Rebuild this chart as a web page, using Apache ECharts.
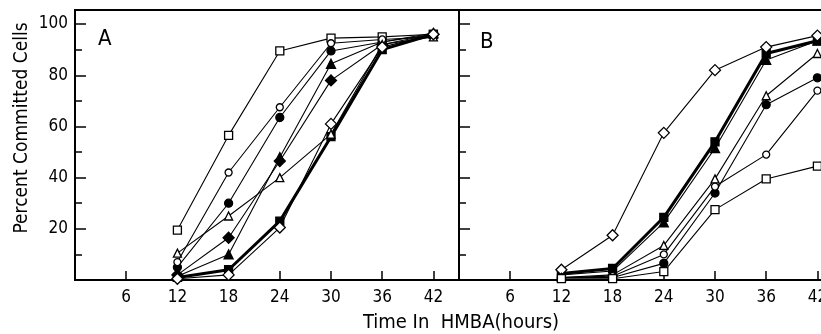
<!DOCTYPE html>
<html>
<head>
<meta charset="utf-8">
<script src="https://cdn.jsdelivr.net/npm/echarts@6/dist/echarts.min.js"></script>
<style>html,body{margin:0;padding:0;background:#fff}#c{width:821px;height:334px}</style>
</head>
<body>
<div id="c"></div>
<script>
const hours = [12, 18, 24, 30, 36, 42];
const xTickLabels = [6, 12, 18, 24, 30, 36, 42];
const yTickLabels = [20, 40, 60, 80, 100];

// Panel A
const A_openSquare     = [19.5, 56.5, 89.5, 94.5, 95, 96];
const A_openCircle     = [7, 42, 67.5, 92.5, 94, 95];
const A_filledCircle   = [5, 30, 63.5, 89.5, 93, 96];
const A_openTriangle   = [10.5, 25, 40, 57, 92, 95];
const A_filledTriangle = [1.5, 10, 48, 84.5, 93, 96.5];
const A_filledDiamond  = [2, 16.5, 46.5, 78, 92, 96];
const A_filledSquare   = [1, 4, 23, 56, 90, 96];
const A_openDiamond    = [0.5, 2, 20.5, 61, 91, 96];

// Panel B
const B_openDiamond    = [4, 17.5, 57.5, 82, 91, 95.5];
const B_filledSquare   = [2.5, 4.5, 24.5, 54, 88.5, 93.5];
const B_filledTriangle = [2, 3.5, 22.5, 51.5, 86, 93.5];
const B_openTriangle   = [1, 2, 13.5, 39.5, 72, 88.5];
const B_filledCircle   = [1, 1, 6.5, 34, 68.5, 79];
const B_openCircle     = [1, 1.5, 10, 36.5, 49, 74];
const B_openSquare     = [0.5, 0.5, 3.3, 27.5, 39.5, 44.5];

const FONT = "'Liberation Sans Narrow', 'DejaVu Sans Condensed', 'Liberation Sans', sans-serif";

const styles = {
  openSquare:     {symbol: 'rect', size: 8, filled: false},
  openCircle:     {symbol: 'circle', size: 7, filled: false},
  filledCircle:   {symbol: 'circle', size: 8, filled: true},
  openTriangle:   {symbol: 'triangle', size: 8, filled: false},
  filledTriangle: {symbol: 'triangle', size: 9, filled: true},
  filledDiamond:  {symbol: 'diamond', size: 11, filled: true},
  filledSquare:   {symbol: 'rect', size: 8, filled: true, width: 3},
  openDiamond:    {symbol: 'diamond', size: 11, filled: false}
};

function mk(name, kind, values, idx) {
  const s = styles[kind];
  return {
    name: name, type: 'line', xAxisIndex: idx, yAxisIndex: idx,
    data: hours.map((h, i) => [h, values[i]]),
    symbol: s.symbol, symbolSize: s.size, showSymbol: true,
    lineStyle: {color: '#000', width: s.width || 1.1},
    itemStyle: {color: s.filled ? '#000' : '#fff', borderColor: '#000', borderWidth: 1.3},
    z: s.filled ? 3 : 4,
    animation: false
  };
}

const series = [
  mk('A open square', 'openSquare', A_openSquare, 0),
  mk('A open circle', 'openCircle', A_openCircle, 0),
  mk('A filled circle', 'filledCircle', A_filledCircle, 0),
  mk('A open triangle', 'openTriangle', A_openTriangle, 0),
  mk('A filled triangle', 'filledTriangle', A_filledTriangle, 0),
  mk('A filled diamond', 'filledDiamond', A_filledDiamond, 0),
  mk('A filled square', 'filledSquare', A_filledSquare, 0),
  mk('A open diamond', 'openDiamond', A_openDiamond, 0),
  mk('B open diamond', 'openDiamond', B_openDiamond, 1),
  mk('B filled square', 'filledSquare', B_filledSquare, 1),
  mk('B filled triangle', 'filledTriangle', B_filledTriangle, 1),
  mk('B open triangle', 'openTriangle', B_openTriangle, 1),
  mk('B filled circle', 'filledCircle', B_filledCircle, 1),
  mk('B open circle', 'openCircle', B_openCircle, 1),
  mk('B open square', 'openSquare', B_openSquare, 1)
];

function xAxis(idx) {
  return {
    type: 'value', gridIndex: idx, min: 0, max: 45, interval: 6,
    axisLine: {show: true, onZero: false, lineStyle: {color: '#000', width: 2}},
    axisTick: {show: true, inside: true, length: 9, lineStyle: {color: '#000', width: 1.5}},
    axisLabel: {
      color: '#000', fontFamily: FONT, fontSize: 17, margin: 9,
      formatter: v => xTickLabels.includes(v) ? String(v) : ''
    },
    splitLine: {show: false}
  };
}
function yAxis(idx, labels) {
  return {
    type: 'value', gridIndex: idx, min: 0, max: 105.5, interval: 20,
    axisLine: {show: true, lineStyle: {color: '#000', width: 2}},
    axisTick: {show: true, inside: true, length: 11, lineStyle: {color: '#000', width: 1.5}},
    minorTick: {show: true, splitNumber: 2, length: 7, lineStyle: {color: '#000', width: 1.5}},
    axisLabel: {
      show: labels, color: '#000', fontFamily: FONT, fontSize: 17, margin: 7,
      formatter: v => yTickLabels.includes(v) ? String(v) : ''
    },
    splitLine: {show: false}
  };
}

const chart = echarts.init(document.getElementById('c'), null, {renderer: 'canvas'});
chart.setOption({
  animation: false,
  backgroundColor: '#fff',
  grid: [
    {left: 75, top: 10, width: 384, height: 270, show: true, borderColor: '#000', borderWidth: 2,
     backgroundColor: 'transparent', containLabel: false, outerBoundsMode: 'none'},
    {left: 459, top: 10, width: 384, height: 270, show: true, borderColor: '#000', borderWidth: 2,
     backgroundColor: 'transparent', containLabel: false, outerBoundsMode: 'none'}
  ],
  xAxis: [xAxis(0), xAxis(1)],
  yAxis: [yAxis(0, true), yAxis(1, false)],
  series: series,
  graphic: [
    {type: 'text', left: 98, top: 28, style: {text: 'A', font: "22px " + FONT, fill: '#000'}},
    {type: 'text', left: 480, top: 31, style: {text: 'B', font: "22px " + FONT, fill: '#000'}},
    {type: 'text', x: 22, y: 128, rotation: Math.PI / 2,
     style: {text: 'Percent Committed Cells', font: "19px " + FONT, fill: '#000', align: 'center', verticalAlign: 'middle'}},
    {type: 'text', x: 461, y: 323,
     style: {text: 'Time In  HMBA(hours)', font: "20px " + FONT, fill: '#000', align: 'center', verticalAlign: 'middle'}}
  ]
});
</script>
</body>
</html>
